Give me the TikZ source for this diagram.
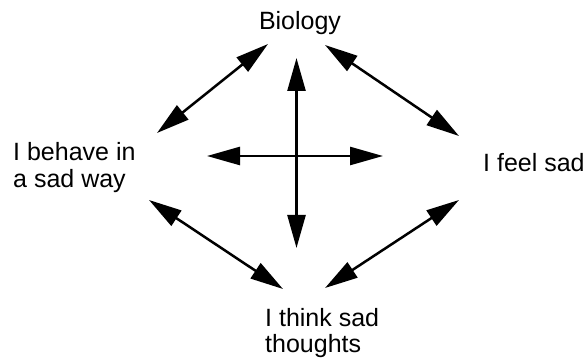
\documentclass[tikz,border=0pt]{standalone}
\usepackage{fontspec}
\setmainfont{Liberation Sans}
\usetikzlibrary{arrows.meta,positioning}

\begin{document}
\begin{tikzpicture}[x=1pt, y=-1pt,
    label/.style={inner sep=0pt, font=\fontsize{25}{27}\selectfont, align=left},
    link/.style={line width=2.5pt, {Triangle[length=33pt,width=18pt]}-{Triangle[length=33pt,width=18pt]}}]
    \useasboundingbox (0,0) rectangle (587,358);

    % the four corners
    \node[label, anchor=base] (bio) at (300,30) {Biology};
    \node[label, anchor=base west] (behave) at (13,188) {I behave in\\a sad way};
    \node[label, anchor=base west] (feel) at (483,172) {I feel sad};
    \node[label, anchor=base west] (think) at (265,353) {I think sad\\thoughts};

    % arrow ends
    \coordinate (bioL) at (268,44);
    \coordinate (behaveT) at (157,133);
    \coordinate (bioR) at (325,45);
    \coordinate (feelT) at (459,136);
    \coordinate (behaveB) at (149,200);
    \coordinate (thinkL) at (283,289);
    \coordinate (feelB) at (459,200);
    \coordinate (thinkR) at (325,288);
    \coordinate (up) at (296.5,58);
    \coordinate (down) at (296.5,248);
    \coordinate (left) at (207,156);
    \coordinate (right) at (383,156);

    % outer links
    \draw[link] (behaveT) -- (bioL);
    \draw[link] (bioR) -- (feelT);
    \draw[link] (behaveB) -- (thinkL);
    \draw[link] (thinkR) -- (feelB);

    % cross
    \draw[link] (up) -- (down);
    \draw[link] (left) -- (right);
\end{tikzpicture}
\end{document}
